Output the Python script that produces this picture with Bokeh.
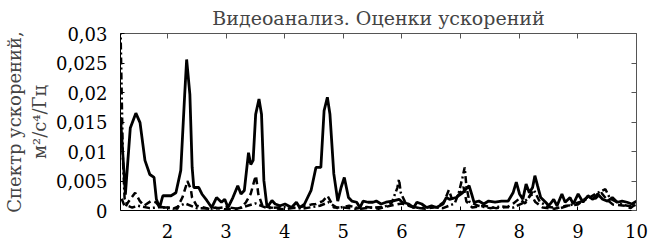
from bokeh.plotting import figure
from bokeh.models import Range1d, LinearAxis, FixedTicker
from bokeh.embed import file_html
from bokeh.resources import INLINE

# ---- data ----
freq_solid = [1.2, 1.283, 1.367, 1.462, 1.533, 1.617, 1.7, 1.772, 1.812, 1.867, 1.922, 2.062, 2.145, 2.228, 2.295, 2.328, 2.383, 2.422, 2.45, 2.533, 2.588, 2.672, 2.755, 2.838, 2.922, 2.978, 3.033, 3.117, 3.2, 3.255, 3.312, 3.383, 3.422, 3.462, 3.505, 3.562, 3.605, 3.645, 3.7, 3.783, 3.838, 3.922, 4.005, 4.117, 4.2, 4.255, 4.338, 4.45, 4.533, 4.617, 4.672, 4.728, 4.772, 4.838, 4.905, 4.962, 5.017, 5.088, 5.145, 5.228, 5.283, 5.338, 5.422, 5.505, 5.562, 5.645, 5.728, 5.838, 5.95, 6.005, 6.117, 6.2, 6.255, 6.338, 6.422, 6.505, 6.588, 6.7, 6.755, 6.812, 6.922, 7.033, 7.145, 7.188, 7.228, 7.312, 7.395, 7.478, 7.588, 7.7, 7.812, 7.895, 7.95, 8.005, 8.062, 8.117, 8.172, 8.228, 8.267, 8.312, 8.367, 8.45, 8.505, 8.588, 8.645, 8.728, 8.783, 8.867, 8.922, 9.005, 9.088, 9.172, 9.255, 9.338, 9.422, 9.505, 9.588, 9.672, 9.755, 9.838, 9.922, 10.0]
spec_solid = [0.0158, 0.0027, 0.014, 0.0165, 0.0149, 0.0085, 0.0061, 0.0056, 0.0019, 0.0005, 0.0025, 0.0025, 0.003, 0.0068, 0.0197, 0.0256, 0.0197, 0.0073, 0.0039, 0.0039, 0.0028, 0.0017, 0.0005, 0.0022, 0.0014, 0.0019, 0.0005, 0.0022, 0.0042, 0.0028, 0.0034, 0.0098, 0.0078, 0.0085, 0.0163, 0.0189, 0.0163, 0.0051, 0.0005, 0.0017, 0.0011, 0.0008, 0.0011, 0.0005, 0.0014, 0.0005, 0.0011, 0.0034, 0.0073, 0.0073, 0.0169, 0.0192, 0.0163, 0.0062, 0.0016, 0.0039, 0.0056, 0.0022, 0.0016, 0.0014, 0.0005, 0.0016, 0.0014, 0.0014, 0.0016, 0.0011, 0.0014, 0.0016, 0.0019, 0.0014, 0.0011, 0.0005, 0.0014, 0.0011, 0.0005, 0.0008, 0.0005, 0.0011, 0.0022, 0.0019, 0.0022, 0.003, 0.0042, 0.0028, 0.0014, 0.0016, 0.0011, 0.0016, 0.0014, 0.0016, 0.0016, 0.003, 0.0048, 0.0028, 0.0019, 0.0045, 0.003, 0.0039, 0.0059, 0.0042, 0.0022, 0.0014, 0.0008, 0.0019, 0.0008, 0.0028, 0.0014, 0.0022, 0.0011, 0.0028, 0.0014, 0.0025, 0.0019, 0.0028, 0.0019, 0.0016, 0.0022, 0.0014, 0.0016, 0.0014, 0.0011, 0.0016]

freq_dash = [1.22, 1.28, 1.33, 1.45, 1.53, 1.6, 1.72, 1.8, 1.88, 2.05, 2.17, 2.2, 2.255, 2.31, 2.34, 2.4, 2.42, 2.5, 2.62, 2.73, 2.81, 2.98, 3.15, 3.26, 3.34, 3.42, 3.48, 3.51, 3.55, 3.62, 3.76, 3.98, 4.2, 4.37, 4.45, 4.53, 4.65, 4.73, 4.78, 4.84, 5.0, 5.2, 5.4, 5.6, 5.8, 6.0, 6.2, 6.4, 6.6, 6.72, 6.8, 6.85, 6.95, 7.0, 7.05, 7.1, 7.2, 7.4, 7.6, 7.8, 7.9, 8.0, 8.1, 8.2, 8.27, 8.4, 8.6, 8.8, 9.0, 9.1, 9.2, 9.3, 9.4, 9.5, 9.6, 9.8, 9.9, 10.0]
spec_dash = [0.002, 0.0005, 0.0014, 0.003, 0.0016, 0.0008, 0.0016, 0.0014, 0.0005, 0.0005, 0.0003, 0.0011, 0.0022, 0.0039, 0.005, 0.0036, 0.0022, 0.0008, 0.0005, 0.0002, 0.0005, 0.0002, 0.0002, 0.0005, 0.0014, 0.0028, 0.005, 0.0059, 0.0028, 0.0008, 0.0005, 0.0002, 0.0005, 0.0008, 0.001, 0.0011, 0.0016, 0.0025, 0.0016, 0.0005, 0.0005, 0.0003, 0.0006, 0.0003, 0.0008, 0.0012, 0.0005, 0.0003, 0.0006, 0.0015, 0.0035, 0.002, 0.0025, 0.003, 0.004, 0.0015, 0.0005, 0.0008, 0.0004, 0.0006, 0.0012, 0.002, 0.0012, 0.0028, 0.0015, 0.0005, 0.0003, 0.0008, 0.001, 0.0018, 0.0025, 0.002, 0.003, 0.0018, 0.001, 0.0008, 0.0004, 0.0012]

freq_dashdot = [1.2, 1.22, 1.24, 1.27, 1.32, 1.4, 1.5, 1.7, 1.9, 2.1, 2.3, 2.5, 2.8, 3.0, 3.2, 3.5, 3.7, 4.0, 4.3, 4.6, 4.75, 4.9, 5.1, 5.3, 5.5, 5.7, 5.82, 5.87, 5.92, 5.95, 5.98, 6.05, 6.12, 6.3, 6.5, 6.7, 6.9, 6.97, 7.03, 7.07, 7.1, 7.15, 7.3, 7.5, 7.7, 7.9, 8.05, 8.15, 8.25, 8.35, 8.5, 8.7, 8.9, 9.05, 9.2, 9.3, 9.4, 9.47, 9.55, 9.65, 9.75, 9.85, 9.95, 10.0]
spec_dashdot = [0.031, 0.02, 0.009, 0.002, 0.0008, 0.0005, 0.0008, 0.0004, 0.0006, 0.0003, 0.0012, 0.0004, 0.0003, 0.0006, 0.0003, 0.0012, 0.0004, 0.0006, 0.0003, 0.0008, 0.0014, 0.0004, 0.0008, 0.0003, 0.0005, 0.0006, 0.0012, 0.0025, 0.0038, 0.0053, 0.003, 0.0015, 0.0008, 0.0004, 0.0006, 0.0004, 0.0012, 0.003, 0.0055, 0.0073, 0.004, 0.0015, 0.0008, 0.0004, 0.0007, 0.0005, 0.0012, 0.002, 0.0035, 0.0015, 0.0006, 0.0004, 0.001, 0.0015, 0.0022, 0.0028, 0.0033, 0.0036, 0.002, 0.0015, 0.001, 0.0008, 0.0006, 0.0015]

x_ticks = [2, 3, 4, 5, 6, 7, 8, 9, 10]
x_tick_labels = ["2", "3", "4", "5", "6", "7", "8", "9", "10"]
y_ticks = [0, 0.005, 0.01, 0.015, 0.02, 0.025, 0.03]
y_tick_labels = ["0", "0,005", "0,01", "0,015", "0,02", "0,025", "0,03"]

title_text = "Видеоанализ. Оценки ускорений"
y_label = "Спектр ускорений,\nм²/с⁴/Гц"

FONT = "DejaVu Serif"

p = figure(frame_width=516, frame_height=177, output_backend="svg", toolbar_location=None,
           x_range=Range1d(1.2, 10.0), y_range=Range1d(0, 0.03),
           min_border_left=0, min_border_right=12, min_border_top=0, min_border_bottom=0)
p.title.text = title_text
p.title.align = "center"
p.title.text_font = FONT
p.title.text_font_size = "19px"
p.title.text_font_style = "normal"
p.title.standoff = 9
p.title.offset = 0

p.grid.visible = False
p.outline_line_color = None
p.background_fill_color = "white"

p.line(freq_solid, spec_solid, line_color="black", line_width=2.8)
p.line(freq_dash, spec_dash, line_color="black", line_width=2.5, line_dash="7 4")
p.line(freq_dashdot, spec_dashdot, line_color="black", line_width=2.5, line_dash="7 3 2 3")

xa = p.xaxis[0]
xa.ticker = FixedTicker(ticks=x_ticks)
xa.major_label_overrides = {t: l for t, l in zip(x_ticks, x_tick_labels)}
ya = p.yaxis[0]
ya.ticker = FixedTicker(ticks=y_ticks)
ya.major_label_overrides = {t: l for t, l in zip(y_ticks, y_tick_labels)}

for ax in (xa, ya):
    ax.major_label_text_font = FONT
    ax.major_label_text_font_size = "18px"
    ax.major_label_text_color = "black"
    ax.axis_line_color = "black"
    ax.axis_line_width = 1
    ax.major_tick_in = 4
    ax.major_tick_out = 0
    ax.minor_tick_line_color = None
    ax.major_tick_line_color = "black"

xa.major_label_standoff = 13
ya.axis_label = y_label
ya.axis_label_text_font = FONT
ya.axis_label_text_font_size = "18px"
ya.axis_label_text_font_style = "normal"
ya.axis_label_standoff = 3
ya.major_label_standoff = 13

top = LinearAxis(ticker=FixedTicker(ticks=x_ticks),
                 major_label_overrides={t: "" for t in x_ticks},
                 axis_line_color="#555555", major_tick_line_color="#555555",
                 major_tick_in=5, major_tick_out=0, minor_tick_line_color=None,
                 major_label_standoff=0)
p.add_layout(top, "above")
right = LinearAxis(ticker=FixedTicker(ticks=y_ticks),
                   major_label_overrides={t: "" for t in y_ticks},
                   axis_line_color="#555555", major_tick_line_color="#555555",
                   major_tick_in=5, major_tick_out=0, minor_tick_line_color=None,
                   major_label_standoff=0)
p.add_layout(right, "right")

open("out.html", "w").write(file_html(p, INLINE))
